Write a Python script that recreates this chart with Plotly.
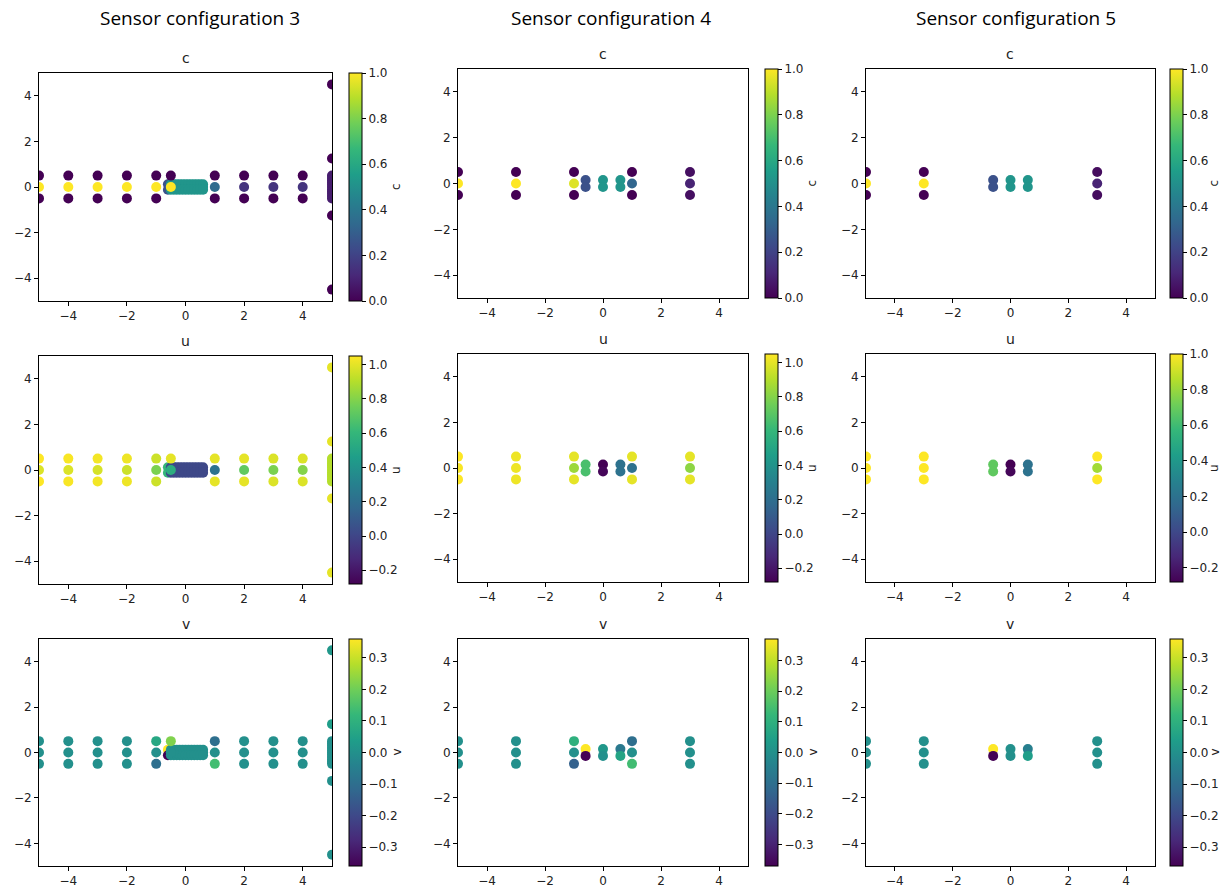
import plotly.graph_objects as go
from plotly.subplots import make_subplots

W, H = 1226, 888

# ---------------- Sensor configuration 3 ----------------
cfg3_x = ([-5, -5, -5, -4, -4, -4, -3, -3, -3, -2, -2, -2, -1, -1, -1]
          + [-0.6, -0.6]
          + [-0.5, -0.4, -0.3, -0.2, -0.1, 0.0, 0.1, 0.2, 0.3, 0.4, 0.5, 0.6] * 3
          + [-0.5, -0.5]
          + [1, 1, 1, 2, 2, 2, 3, 3, 3, 4, 4, 4]
          + [5, 5, 5, 5]
          + [5, 5, 5, 5, 5, 5, 5, 5, 5, 5, 5])
cfg3_y = ([0.5, 0, -0.5] * 5
          + [0.12, -0.12]
          + [0.0] * 12 + [0.12] * 12 + [-0.12] * 12
          + [0.5, 0.0]
          + [0.5, 0, -0.5] * 4
          + [4.5, 1.25, -1.25, -4.5]
          + [0.5, 0.4, 0.3, 0.2, 0.1, 0.0, -0.1, -0.2, -0.3, -0.4, -0.5])
cfg3_c = ([0, 1, 0] * 5
          + [0.25, 0.25]
          + [0.52] * 36
          + [0.0, 1.0]
          + [0, 0.35, 0, 0, 0.15, 0, 0, 0.15, 0, 0, 0.15, 0]
          + [0.0, 0.0, 0.0, 0.0]
          + [0.08] * 11)
cfg3_u = ([1.05, 0.98, 1.05, 1.04, 0.98, 1.04, 1.03, 0.97, 1.03, 1.02, 0.95, 1.02, 0.95, 0.78, 0.95]
          + [0.6, 0.6]
          + [0.01, 0.0, -0.1, -0.2, -0.28, -0.28, -0.28, -0.2, -0.1, 0.0, 0.01, 0.01]
          + [0.01] * 24
          + [1.0, 0.55]
          + [1.0, 0.22, 1.0, 1.0, 0.72, 1.0, 0.98, 0.78, 0.98, 0.98, 0.8, 0.98]
          + [1.0, 1.0, 1.0, 1.0]
          + [0.9] * 11)
cfg3_v = ([0.0] * 12 + [0.07, 0.0, -0.1]
          + [0.36, -0.36]
          + [0.0] * 36
          + [0.22, 0.0]
          + [-0.1, 0.0, 0.14, 0.0, 0.0, 0.0, 0.0, 0.0, 0.0, 0.0, 0.0, 0.0]
          + [0.02, 0.04, 0.0, 0.0]
          + [0.0] * 11)

# ---------------- Sensor configuration 4 ----------------
cfg4_x = [-5, -5, -5, -3, -3, -3, -1, -1, -1, -0.6, -0.6, 0, 0, 0.6, 0.6, 1, 1, 1, 3, 3, 3]
cfg4_y = [0.5, 0, -0.5, 0.5, 0, -0.5, 0.5, 0, -0.5, 0.15, -0.15, 0.15, -0.15, 0.15, -0.15,
          0.5, 0, -0.5, 0.5, 0, -0.5]
cfg4_c = [0, 1, 0, 0, 1, 0, 0, 0.95, 0, 0.25, 0.25, 0.52, 0.52, 0.52, 0.52, 0, 0.33, 0, 0.04, 0.1, 0.04]
cfg4_u = [1.05, 1.04, 1.05, 1.02, 1.02, 1.02, 1.0, 0.85, 1.0, 0.66, 0.66, -0.28, -0.26,
          0.22, 0.22, 1.0, 0.22, 1.0, 1.0, 0.82, 1.0]
cfg4_v = [0, 0, 0, 0, 0, 0, 0.1, 0.0, -0.14, 0.37, -0.37, 0.02, 0.0, -0.07, 0.06,
          -0.1, 0.0, 0.14, 0, 0, 0]

# ---------------- Sensor configuration 5 ----------------
cfg5_x = [-5, -5, -5, -3, -3, -3, -0.6, -0.6, 0, 0, 0.6, 0.6, 3, 3, 3]
cfg5_y = [0.5, 0, -0.5, 0.5, 0, -0.5, 0.15, -0.15, 0.15, -0.15, 0.15, -0.15, 0.5, 0, -0.5]
cfg5_c = [0, 1, 0, 0, 1, 0, 0.25, 0.25, 0.52, 0.52, 0.52, 0.52, 0.03, 0.1, 0.03]
cfg5_u = [1.0, 1.0, 1.0, 1.0, 1.0, 1.0, 0.68, 0.68, -0.28, -0.26, 0.2, 0.2, 1.0, 0.82, 1.0]
cfg5_v = [0, 0, 0, 0, 0, 0, 0.36, -0.36, 0.0, 0.0, -0.05, 0.04, 0, 0, 0]

headers = ["Sensor configuration 3", "Sensor configuration 4", "Sensor configuration 5"]
fields = ["c", "u", "v"]
tick_c = [0.0, 0.2, 0.4, 0.6, 0.8, 1.0]
tick_u = [-0.2, 0.0, 0.2, 0.4, 0.6, 0.8, 1.0]
tick_v = [-0.3, -0.2, -0.1, 0.0, 0.1, 0.2, 0.3]
axis_ticks = [-4, -2, 0, 2, 4]

configs = [
    (cfg3_x, cfg3_y, {"c": cfg3_c, "u": cfg3_u, "v": cfg3_v}),
    (cfg4_x, cfg4_y, {"c": cfg4_c, "u": cfg4_u, "v": cfg4_v}),
    (cfg5_x, cfg5_y, {"c": cfg5_c, "u": cfg5_u, "v": cfg5_v}),
]
cticks = {"c": tick_c, "u": tick_u, "v": tick_v}

# layout in pixels
col_x = [(39, 332), (458, 748), (866, 1155)]
row_y = [
    [(73, 301), (356, 584), (639, 866)],
    [(69, 298), (354, 582), (639, 866)],
    [(69, 298), (354, 582), (639, 866)],
]
cbar_left = [349, 765, 1170]
cbar_thick = 13
cbar_label_x = [396, 812, 1214]

fig = make_subplots(rows=3, cols=3)

font_fam = "DejaVu Sans"
annotations = []
for ci, (xs, ys, vals) in enumerate(configs):
    for ri, f in enumerate(fields):
        n = ri * 3 + ci + 1
        x0, x1 = col_x[ci]
        y0, y1 = row_y[ci][ri]
        xd = [x0 / W, x1 / W]
        yd = [1 - y1 / H, 1 - y0 / H]
        vv = vals[f]
        fig.add_trace(go.Scatter(
            x=xs, y=ys, mode="markers",
            marker=dict(size=10, color=vv, colorscale="Viridis",
                        cmin=min(vv), cmax=max(vv), line=dict(width=0),
                        showscale=True,
                        colorbar=dict(
                            x=cbar_left[ci] / W, xanchor="left", xpad=0, ypad=0,
                            y=1 - (y0 + y1) / 2 / H, yanchor="middle",
                            len=(y1 - y0) / H, lenmode="fraction",
                            thickness=cbar_thick, thicknessmode="pixels",
                            outlinecolor="black", outlinewidth=1,
                            ticks="outside", ticklen=4, tickcolor="black",
                            tickvals=cticks[f], tickformat=".1f",
                            tickfont=dict(family=font_fam, size=12, color="#222"),
                        )),
            showlegend=False, hoverinfo="skip",
        ), row=ri + 1, col=ci + 1)
        axs = "" if n == 1 else str(n)
        common = dict(range=[-5, 5], tickvals=axis_ticks, showgrid=False, zeroline=False,
                      showline=True, mirror=True, linecolor="black", linewidth=1,
                      ticks="outside", ticklen=4, tickcolor="black",
                      tickfont=dict(family=font_fam, size=12, color="#222"))
        fig.layout["xaxis" + axs].update(domain=xd, **common)
        fig.layout["yaxis" + axs].update(domain=yd, **common)
        # subplot title
        annotations.append(dict(
            text=f, x=(x0 + x1) / 2 / W, y=1 - (y0 - 5) / H, xref="paper", yref="paper",
            xanchor="center", yanchor="bottom", showarrow=False,
            font=dict(family=font_fam, size=14, color="#222")))
        # colorbar label (rotated, right of tick labels)
        annotations.append(dict(
            text=f, x=cbar_label_x[ci] / W, y=1 - (y0 + y1) / 2 / H,
            xref="paper", yref="paper", xanchor="center", yanchor="middle",
            textangle=-90, showarrow=False,
            font=dict(family=font_fam, size=12, color="#222")))

header_cx = [200, 611, 1016]
for ci, h in enumerate(headers):
    annotations.append(dict(
        text=h, x=header_cx[ci] / W, y=1 - 18 / H, xref="paper", yref="paper",
        xanchor="center", yanchor="middle", showarrow=False,
        font=dict(family="Open Sans", size=19, color="black")))

fig.update_layout(width=W, height=H, margin=dict(l=0, r=0, t=0, b=0),
                  paper_bgcolor="white", plot_bgcolor="white",
                  annotations=annotations)

fig.write_html("out.html")
